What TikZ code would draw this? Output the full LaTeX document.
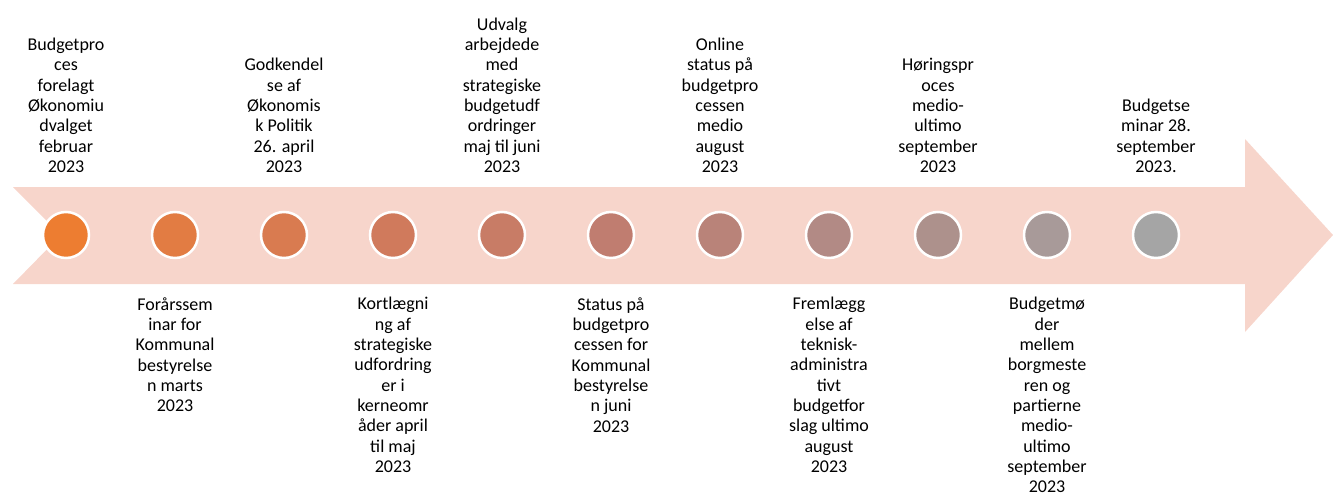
\documentclass[tikz,border=0pt]{standalone}
\usepackage{fontspec}
\setmainfont{Carlito}
\usepackage{xcolor}
\usepackage{tikz}
\usetikzlibrary{positioning,shapes}
\definecolor{arrowpink}{HTML}{F7D5CB}
\definecolor{step1}{HTML}{ED7D31}
\definecolor{step2}{HTML}{E27C43}
\definecolor{step3}{HTML}{D97B50}
\definecolor{step4}{HTML}{D07A5C}
\definecolor{step5}{HTML}{C87C66}
\definecolor{step6}{HTML}{C07D70}
\definecolor{step7}{HTML}{B98379}
\definecolor{step8}{HTML}{B28A85}
\definecolor{step9}{HTML}{AD918C}
\definecolor{step10}{HTML}{A89A99}
\definecolor{step11}{HTML}{A5A5A5}
\tikzstyle{milestone} = [circle, minimum size=46pt, inner sep=0pt, draw=white, line width=2.5pt]
\tikzstyle{eventtext} = [align=center, inner sep=0pt, font=\fontsize{18}{20.3}\selectfont, text=black]

\begin{document}
\begin{tikzpicture}[x=1pt, y=-1pt, node distance=109pt]
          \useasboundingbox (0,0) rectangle (1333,495);
          % timeline arrow
          \fill [arrowpink] (13,187) -- (1245,187) -- (1245,139) -- (1333,235) -- (1245,332) -- (1245,284) -- (13,284) -- (61,235) -- cycle;
          % milestones
          \node (dot1) [milestone, fill=step1] at (66,235) {};
          \node (dot2) [milestone, fill=step2, right of=dot1] {};
          \node (dot3) [milestone, fill=step3, right of=dot2] {};
          \node (dot4) [milestone, fill=step4, right of=dot3] {};
          \node (dot5) [milestone, fill=step5, right of=dot4] {};
          \node (dot6) [milestone, fill=step6, right of=dot5] {};
          \node (dot7) [milestone, fill=step7, right of=dot6] {};
          \node (dot8) [milestone, fill=step8, right of=dot7] {};
          \node (dot9) [milestone, fill=step9, right of=dot8] {};
          \node (dot10) [milestone, fill=step10, right of=dot9] {};
          \node (dot11) [milestone, fill=step11, right of=dot10] {};
          % texts above
          \node (event1) [eventtext, above=38pt of dot1] {Budgetpro\\ces\\forelagt\\Økonomiu\\dvalget\\februar\\2023};
          \node (event3) [eventtext, above=38pt of dot3] {Godkendel\\se af\\Økonomis\\k Politik\\26. april\\2023};
          \node (event5) [eventtext, above=38pt of dot5] {Udvalg\\arbejdede\\med\\strategiske\\budgetudf\\ordringer\\maj til juni\\2023};
          \node (event7) [eventtext, above=38pt of dot7] {Online\\status på\\budgetpro\\cessen\\medio\\august\\2023};
          \node (event9) [eventtext, above=38pt of dot9] {Høringspr\\oces\\medio-\\ultimo\\september\\2023};
          \node (event11) [eventtext, above=38pt of dot11] {Budgetse\\minar 28.\\september\\2023.};
          % texts below
          \node (event2) [eventtext, below=38pt of dot2] {Forårssem\\inar for\\Kommunal\\bestyrelse\\n marts\\2023};
          \node (event4) [eventtext, below=38pt of dot4] {Kortlægni\\ng af\\strategiske\\udfordring\\er i\\kerneomr\\åder april\\til maj\\2023};
          \node (event6) [eventtext, below=38pt of dot6] {Status på\\budgetpro\\cessen for\\Kommunal\\bestyrelse\\n juni\\2023};
          \node (event8) [eventtext, below=38pt of dot8] {Fremlægg\\else af\\teknisk-\\administra\\tivt\\budgetfor\\slag ultimo\\august\\2023};
          \node (event10) [eventtext, below=38pt of dot10] {Budgetmø\\der\\mellem\\borgmeste\\ren og\\partierne\\medio-\\ultimo\\september\\2023};
\end{tikzpicture}
\end{document}
